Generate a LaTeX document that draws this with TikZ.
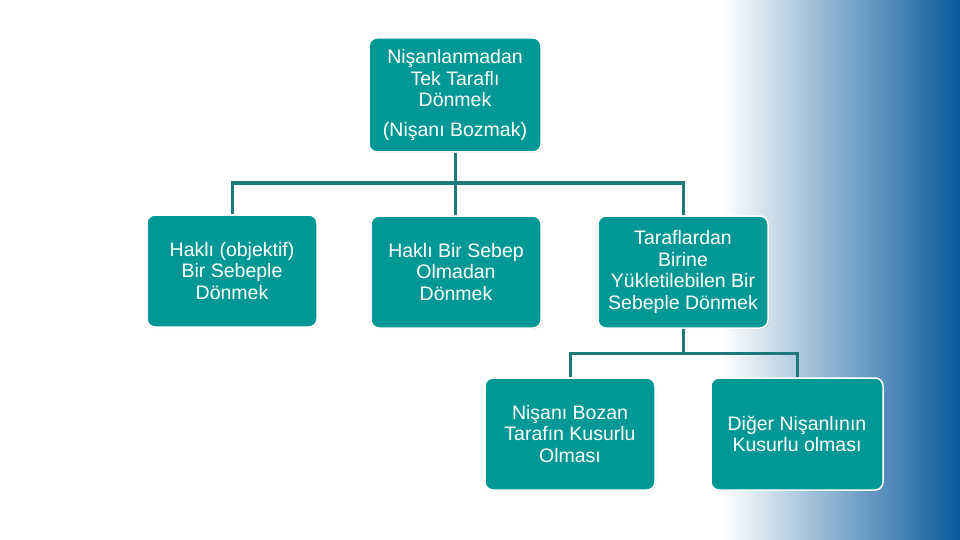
\documentclass[tikz,border=0pt]{standalone}
\usepackage{fontspec}
\setmainfont{Liberation Sans}
\usetikzlibrary{shadows}
\definecolor{boxteal}{RGB}{0,152,148}
\definecolor{linkteal}{RGB}{30,122,122}
\definecolor{sideblue}{RGB}{8,90,156}
\begin{document}
\begin{tikzpicture}[x=1pt, y=-1pt,
  item/.style={rectangle, rounded corners=8pt, minimum width=170pt,
               minimum height=112pt, inner sep=2pt, text centered, align=center,
               font=\fontsize{19.5}{21.5}\selectfont, text=white,
               draw=white, line width=1.5pt, fill=boxteal,
               drop shadow={opacity=0.25, shadow xshift=1pt, shadow yshift=-1pt}},
  link/.style={linkteal, line width=3pt},
]
\useasboundingbox (0,0) rectangle (960,540);
\shade[left color=white, right color=sideblue] (722,0) rectangle (960,540);
\node[item, minimum width=172pt, minimum height=114pt] (top) at (455,95)
  {Nişanlanmadan\\Tek Taraflı\\Dönmek\\[8pt](Nişanı Bozmak)};
\node[item] (h1) at (232,271) {Haklı (objektif)\\Bir Sebeple\\Dönmek};
\node[item] (h2) at (456,272) {Haklı Bir Sebep\\Olmadan\\Dönmek};
\node[item] (h3) at (683,272) {Taraflardan\\Birine\\Yükletilebilen Bir\\Sebeple Dönmek};
\node[item] (k1) at (570,434) {Nişanı Bozan\\Tarafın Kusurlu\\Olması};
\node[item, minimum width=172pt] (k2) at (797,434) {Diğer Nişanlının\\Kusurlu olması};
\coordinate (j1) at (455,183);
\coordinate (j2) at (683,353);
\draw[link] (top.south) -- (j1); \draw[link] (j1) -| (h1.north); \draw[link] (j1) -| (h3.north); \draw[link] (j1) -- (j1 |- h2.north);
\draw[link] (h3.south) -- (j2); \draw[link] (j2) -| (k1.north); \draw[link] (j2) -| (k2.north);
\end{tikzpicture}
\end{document}
